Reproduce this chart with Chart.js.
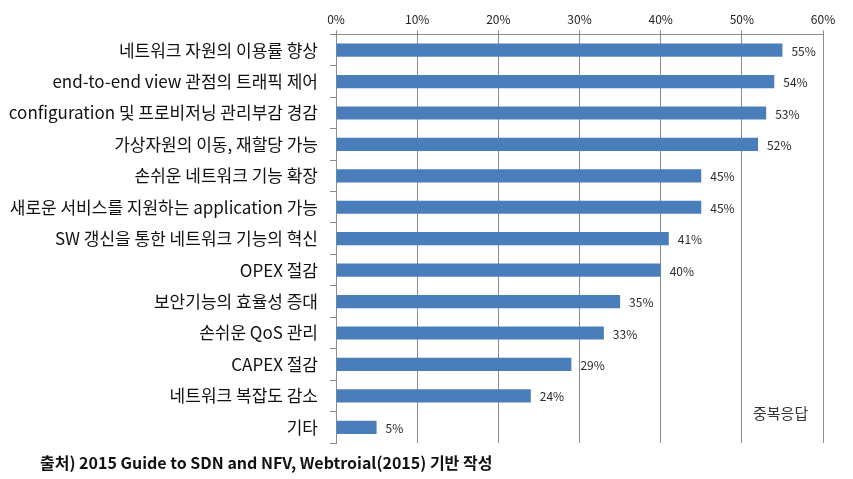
<!DOCTYPE html>
<html><head><meta charset="utf-8">
<script src="https://cdn.jsdelivr.net/npm/chart.js@4/dist/chart.umd.min.js"></script>
<style>html,body{margin:0;padding:0;background:#fff;}#wrap{width:853px;height:479px;position:relative;}</style>
</head><body><div id="wrap"><canvas id="c" width="853" height="479"></canvas></div>
<script>
const categories = [
  "네트워크 자원의 이용률 향상",
  "end-to-end view 관점의 트래픽 제어",
  "configuration 및 프로비저닝 관리부감 경감",
  "가상자원의 이동, 재할당 가능",
  "손쉬운 네트워크 기능 확장",
  "새로운 서비스를 지원하는 application 가능",
  "SW 갱신을 통한 네트워크 기능의 혁신",
  "OPEX 절감",
  "보안기능의 효율성 증대",
  "손쉬운 QoS 관리",
  "CAPEX 절감",
  "네트워크 복잡도 감소",
  "기타"
];
const values = [55, 54, 53, 52, 45, 45, 41, 40, 35, 33, 29, 24, 5];
const xTicks = [0, 10, 20, 30, 40, 50, 60];
const noteText = "중복응답";
const sourceText = "출처) 2015 Guide to SDN and NFV, Webtroial(2015) 기반 작성";

const KR = '"Noto Sans CJK KR", "Noto Sans", sans-serif';

const labelPlugin = {
  id: 'labels',
  afterDatasetsDraw(chart) {
    const ctx = chart.ctx;
    const meta = chart.getDatasetMeta(0);
    ctx.save();
    ctx.font = '12px ' + KR;
    ctx.fillStyle = '#2a2a2a';
    ctx.textBaseline = 'middle';
    ctx.textAlign = 'left';
    meta.data.forEach((bar, i) => {
      ctx.fillText(values[i] + '%', bar.x + 9, bar.y + 1);
    });
    ctx.font = '15px ' + KR;
    ctx.fillStyle = '#333';
    ctx.fillText(noteText, 753, 413);
    ctx.font = '600 16px ' + KR;
    ctx.fillStyle = '#111';
    ctx.fillText(sourceText, 40, 463);
    ctx.restore();
  }
};

new Chart(document.getElementById('c'), {
  type: 'bar',
  data: {
    labels: categories,
    datasets: [{
      data: values,
      backgroundColor: '#4a7ebb',
      barPercentage: 0.42,
      categoryPercentage: 1.0
    }]
  },
  options: {
    indexAxis: 'y',
    responsive: false,
    animation: false,
    layout: { padding: { top: 8, right: 30, bottom: 36, left: 0 } },
    plugins: { legend: { display: false }, tooltip: { enabled: false } },
    scales: {
      x: {
        position: 'top',
        min: 0, max: 60,
        afterBuildTicks(scale) { scale.ticks = xTicks.map(v => ({ value: v })); },
        ticks: {
          callback: v => v + '%',
          font: { family: KR, size: 12 },
          color: '#222',
          padding: 4,
          maxRotation: 0
        },
        grid: { color: '#8c8c8c', lineWidth: 1, tickLength: 4, drawTicks: true },
        border: { color: '#8c8c8c' }
      },
      y: {
        afterFit(scale) { scale.width = 336; },
        ticks: {
          font: { family: KR, size: 17 },
          color: '#111',
          padding: 12,
          autoSkip: false
        },
        grid: { display: true, drawOnChartArea: false, drawTicks: true, tickLength: 6, color: '#8c8c8c', offset: true },
        border: { color: '#8c8c8c' }
      }
    }
  },
  plugins: [labelPlugin]
});
</script></body></html>
